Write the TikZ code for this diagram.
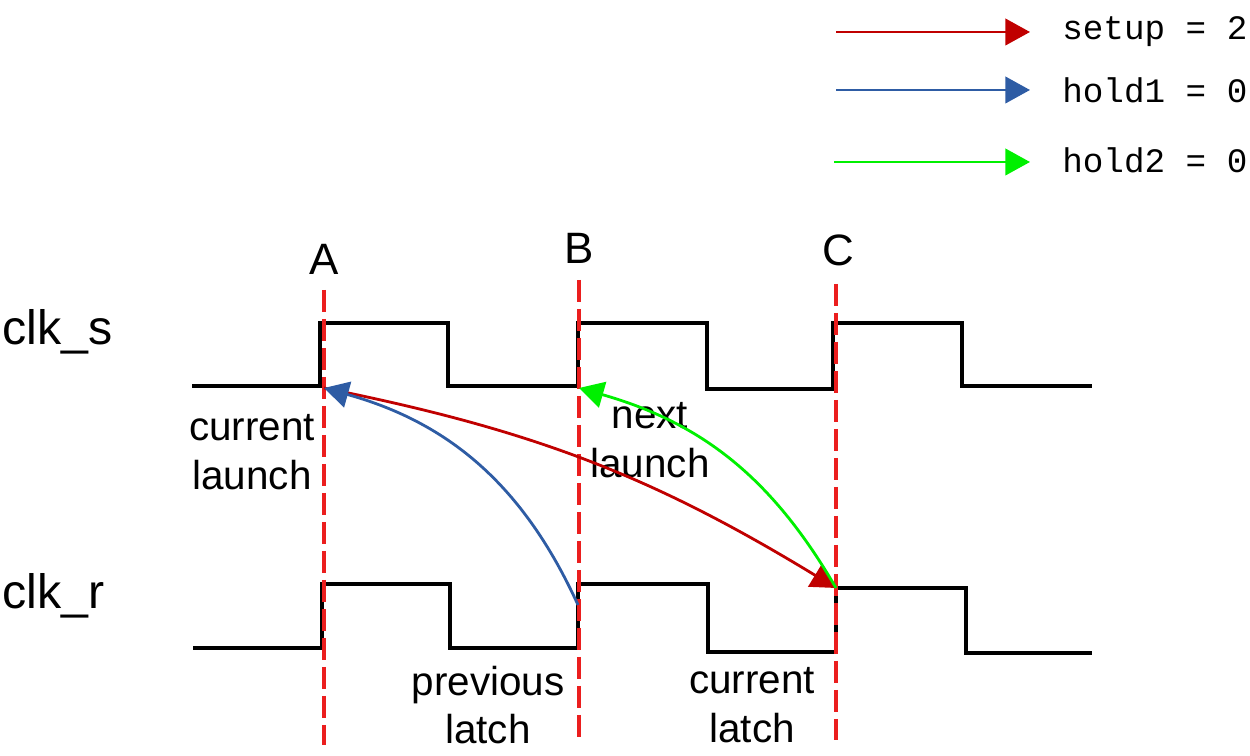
\documentclass[tikz,border=0pt]{standalone}
\usepackage{fontspec}
\setmainfont{Liberation Sans}
\setmonofont{Liberation Mono}
\usetikzlibrary{arrows.meta}
\definecolor{setupred}{RGB}{192,0,0}
\definecolor{holdblue}{RGB}{46,92,164}
\definecolor{holdgreen}{RGB}{0,240,0}
\definecolor{edgered}{RGB}{235,30,30}
\tikzset{
  >={Triangle[length=14pt,width=15pt]},
  wave/.style={black,line width=1.9pt},
  edge line/.style={edgered,line width=1.9pt,dash pattern=on 12.5pt off 4pt},
  path arrow/.style={->,line width=1.6pt,draw=#1},
  path arrow/.default=setupred,
  lbl/.style={font=\fontsize{23}{27.5}\selectfont,align=center,inner sep=0pt},
  sig/.style={font=\fontsize{27.5}{30}\selectfont,anchor=base west,inner sep=0pt},
  edge name/.style={font=\fontsize{25}{30}\selectfont,anchor=base,inner sep=0pt},
  legend text/.style={font=\ttfamily\fontsize{19.5}{22}\selectfont,anchor=west,inner sep=0pt},
}

\begin{document}
\begin{tikzpicture}[x=0.02cm,y=0.02cm]
  \useasboundingbox (0,0) rectangle (1250,-756);
  % legend
  \coordinate (l1s) at (836,-32);  \coordinate (l1e) at (1030,-32);
  \coordinate (l2s) at (836,-90);  \coordinate (l2e) at (1030,-90);
  \coordinate (l3s) at (834,-162); \coordinate (l3e) at (1030,-162);
  \draw[path arrow=setupred] (l1s) -- (l1e);
  \draw[path arrow=holdblue] (l2s) -- (l2e);
  \draw[path arrow=holdgreen] (l3s) -- (l3e);
  \node[legend text] (lsetup) at (1062,-32) {setup = 2};
  \node[legend text] (lhold1) at (1062,-90) {hold1 = 0};
  \node[legend text] (lhold2) at (1062,-160) {hold2 = 0};
  % clocks
  \node[sig] (clks) at (2,-345) {clk\_s};
  \node[sig] (clkr) at (2,-608) {clk\_r};
  \draw[wave] (192,-386) -- (320,-386) -- (320,-323) -- (448,-323) -- (448,-386)
    -- (578,-386) -- (578,-323) -- (707,-323) -- (707,-389) -- (833,-389)
    -- (833,-323) -- (962,-323) -- (962,-386) -- (1092,-386);
  \draw[wave] (193,-648) -- (322,-648) -- (322,-584) -- (450,-584) -- (450,-648)
    -- (578,-648) -- (578,-584) -- (708,-584) -- (708,-652) -- (836,-652)
    -- (836,-588) -- (966,-588) -- (966,-653) -- (1092,-653);
  % edges
  \node[edge name] (A) at (324,-275) {A};
  \node[edge name] (B) at (579,-264) {B};
  \node[edge name] (C) at (838,-266) {C};
  \foreach \n/\x/\t/\b in {A/324/290/745,B/579/280/740,C/836/284/740}{
    \coordinate (\n top) at (\x,-\t);
    \coordinate (\n bot) at (\x,-\b);
    \draw[edge line] (\n top) -- (\n bot);
  }
  \node[lbl] (curlaunch) at (252,-452) {current\\launch};
  \node[lbl] (nextlaunch) at (650,-440) {next\\launch};
  \node[lbl] (prevlatch) at (488,-705) {previous\\latch};
  \node[lbl] (curlatch) at (752,-705) {current\\latch};
  % timing paths
  \coordinate (sA) at (324,-388);
  \coordinate (sB) at (579,-388);
  \coordinate (rB) at (578,-605);
  \coordinate (rC) at (836,-588);
  \draw[path arrow=setupred] (sA) to[bend left=10] (rC);
  \draw[path arrow=holdblue] (rB) to[bend right=25] (sA);
  \draw[path arrow=holdgreen] (rC) to[bend right=22] (sB);
\end{tikzpicture}
\end{document}
